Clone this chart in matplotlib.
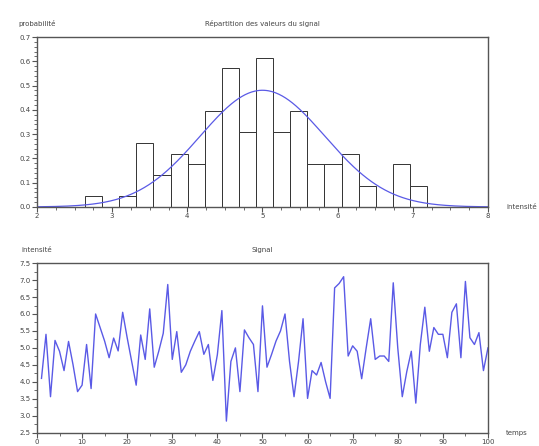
import numpy as np
import matplotlib
matplotlib.use('Agg')
import matplotlib.pyplot as plt
from matplotlib.ticker import MultipleLocator, AutoMinorLocator

# signal sampled at t = 1..100
temps = np.arange(1, 101)
signal = [4.1, 5.4, 3.56, 5.22, 4.9, 4.33, 5.19, 4.5, 3.71, 3.9,
          5.1, 3.8, 6.0, 5.6, 5.2, 4.71, 5.29, 4.91, 6.05, 5.3,
          4.6, 3.9, 5.38, 4.66, 6.15, 4.43, 4.9, 5.43, 6.87, 4.66,
          5.48, 4.28, 4.5, 4.9, 5.2, 5.48, 4.81, 5.1, 4.04, 4.8,
          6.1, 2.84, 4.6, 5.0, 3.71, 5.53, 5.3, 5.1, 3.71, 6.24,
          4.43, 4.8, 5.2, 5.5, 6.0, 4.6, 3.56, 4.6, 5.86, 3.51,
          4.33, 4.2, 4.57, 4.0, 3.51, 6.77, 6.9, 7.1, 4.76, 5.06,
          4.9, 4.09, 5.0, 5.86, 4.66, 4.76, 4.76, 4.6, 6.92, 5.0,
          3.56, 4.3, 4.9, 3.37, 5.1, 6.2, 4.9, 5.6, 5.4, 5.4,
          4.71, 6.05, 6.3, 4.71, 6.96, 5.3, 5.1, 5.45, 4.33, 5.0]

# histogram (probability density per bin)
bin_edges = np.linspace(2.64, 7.19, 21)
probas = [0.044, 0.0, 0.044, 0.264, 0.132, 0.22, 0.176, 0.396, 0.571, 0.308,
          0.615, 0.308, 0.396, 0.176, 0.176, 0.22, 0.088, 0.0, 0.176, 0.088]

# fitted gaussian
mu = 5.0
sigma = 0.83

line_col = '#5a5ae6'
frame_col = '#555555'
txt_col = '#444444'
fs = 5

fig = plt.figure(figsize=(5.39, 4.46), dpi=100)
ax1 = fig.add_axes([0.0686, 0.536, 0.8367, 0.381])
ax2 = fig.add_axes([0.0686, 0.030, 0.8367, 0.380])

# --- top : histogram
widths = np.diff(bin_edges)
ax1.bar(bin_edges[:-1], probas, width=widths, align='edge',
        facecolor='white', edgecolor='#333333', linewidth=0.7)
xs = np.linspace(2, 8, 400)
ax1.plot(xs, np.exp(-(xs - mu) ** 2 / (2 * sigma ** 2)) / (sigma * np.sqrt(2 * np.pi)),
         color=line_col, linewidth=0.9)
ax1.set_xlim(2, 8)
ax1.set_ylim(0, 0.7)
ax1.xaxis.set_major_locator(MultipleLocator(1))
ax1.xaxis.set_minor_locator(AutoMinorLocator(4))
ax1.yaxis.set_major_locator(MultipleLocator(0.1))
ax1.yaxis.set_minor_locator(AutoMinorLocator(5))
ax1.yaxis.set_major_formatter(plt.FormatStrFormatter('%.1f'))

# --- bottom : signal
ax2.plot(temps, signal, color=line_col, linewidth=1.0)
ax2.set_xlim(0, 100)
ax2.set_ylim(2.5, 7.5)
ax2.xaxis.set_major_locator(MultipleLocator(10))
ax2.xaxis.set_minor_locator(AutoMinorLocator(2))
ax2.yaxis.set_major_locator(MultipleLocator(0.5))
ax2.yaxis.set_minor_locator(AutoMinorLocator(2))
ax2.yaxis.set_major_formatter(plt.FormatStrFormatter('%.1f'))

for ax in (ax1, ax2):
    for s in ax.spines.values():
        s.set_color(frame_col)
        s.set_linewidth(1.0)
    ax.tick_params(which='both', direction='out', colors=frame_col,
                   labelcolor=txt_col, labelsize=fs, pad=1)
    ax.tick_params(which='major', length=3.5)
    ax.tick_params(which='minor', length=2)

ax1.text(0.0, 1.06, 'probabilité', transform=ax1.transAxes, fontsize=fs,
         color=txt_col, ha='center', va='bottom')
ax1.text(0.5, 1.06, 'Répartition des valeurs du signal', transform=ax1.transAxes,
         fontsize=fs, color=txt_col, ha='center', va='bottom')
ax1.text(1.04, 0.0, 'intensité', transform=ax1.transAxes, fontsize=fs,
         color=txt_col, ha='left', va='center')

ax2.text(0.0, 1.06, 'intensité', transform=ax2.transAxes, fontsize=fs,
         color=txt_col, ha='center', va='bottom')
ax2.text(0.5, 1.06, 'Signal', transform=ax2.transAxes, fontsize=fs,
         color=txt_col, ha='center', va='bottom')
ax2.text(1.04, 0.0, 'temps', transform=ax2.transAxes, fontsize=fs,
         color=txt_col, ha='left', va='center')

fig.savefig('out.png', dpi=100)
